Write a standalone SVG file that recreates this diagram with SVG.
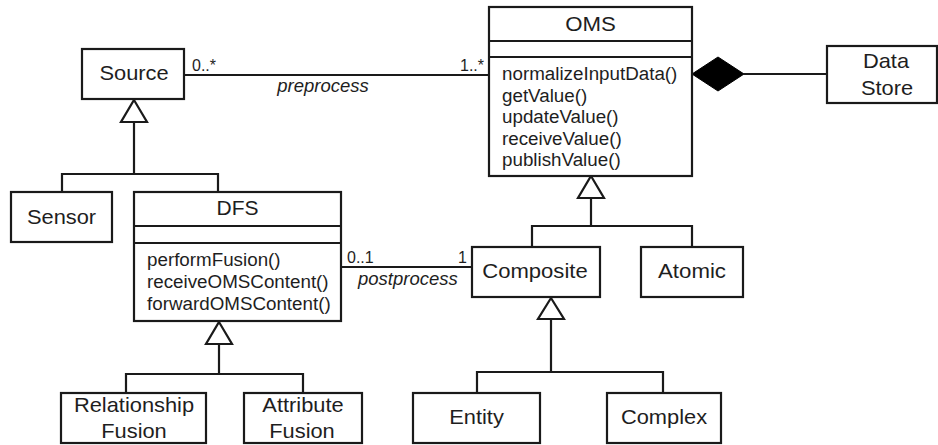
<svg xmlns="http://www.w3.org/2000/svg" width="938" height="445" viewBox="0 0 938 445">
<style>
.box{fill:#fff;stroke:#1a1a1a;stroke-width:2.2}
.ln{fill:none;stroke:#1a1a1a;stroke-width:2.2}
.tri{fill:#fff;stroke:#1a1a1a;stroke-width:2.2;stroke-linejoin:miter}
text{font-family:"Liberation Sans",Arial,sans-serif;fill:#1e1e1e}
.t{font-size:21px;text-anchor:middle}
.m{font-size:18.8px}
.lab{font-size:18.5px;font-style:italic}
.mul{font-size:16px}
</style>
<rect width="938" height="445" fill="#fff"/>
<g id="connectors">
  <!-- preprocess association -->
  <line class="ln" x1="184" y1="75" x2="489" y2="75"/>
  <text class="mul" x="192" y="71">0..*</text>
  <text class="mul" x="484" y="71" text-anchor="end">1..*</text>
  <text class="lab" x="323" y="92" text-anchor="middle">preprocess</text>
  <!-- composition OMS - Data Store -->
  <line class="ln" x1="744" y1="74" x2="827" y2="74"/>
  <polygon points="692,74 718,57 744,74 718,91" fill="#000" stroke="#000" stroke-width="1"/>
  <!-- postprocess association -->
  <line class="ln" x1="341" y1="267" x2="472" y2="267"/>
  <text class="mul" x="347" y="263">0..1</text>
  <text class="mul" x="467" y="263" text-anchor="end">1</text>
  <text class="lab" x="358" y="285">postprocess</text>
  <!-- Source generalization -->
  <polyline class="ln" points="62,192 62,174 218,174 218,192"/>
  <line class="ln" x1="134" y1="122" x2="134" y2="174"/>
  <polygon class="tri" points="134,100 147,122 121,122"/>
  <!-- DFS generalization -->
  <polyline class="ln" points="126,393 126,374 303,374 303,393"/>
  <line class="ln" x1="219" y1="344" x2="219" y2="374"/>
  <polygon class="tri" points="219,322 232,344 206,344"/>
  <!-- OMS generalization -->
  <polyline class="ln" points="532,247 532,226 692,226 692,247"/>
  <line class="ln" x1="591" y1="198" x2="591" y2="226"/>
  <polygon class="tri" points="591,176 604,198 578,198"/>
  <!-- Composite generalization -->
  <polyline class="ln" points="477,393 477,372 663,372 663,393"/>
  <line class="ln" x1="551" y1="319" x2="551" y2="372"/>
  <polygon class="tri" points="551,298 564,319 538,319"/>
</g>
<g id="source">
  <rect class="box" x="82" y="49" width="102" height="50"/>
  <text class="t" transform="translate(134 80) scale(1.04 1)">Source</text>
</g>
<g id="oms">
  <rect class="box" x="489" y="7" width="203" height="169"/>
  <line class="ln" x1="489" y1="41" x2="692" y2="41"/>
  <line class="ln" x1="489" y1="57" x2="692" y2="57"/>
  <text class="t" transform="translate(590.5 31) scale(1.06 1)">OMS</text>
  <text class="m" x="502" y="80">normalizeInputData()</text>
  <text class="m" x="502" y="101.5">getValue()</text>
  <text class="m" x="502" y="123">updateValue()</text>
  <text class="m" x="502" y="144.5">receiveValue()</text>
  <text class="m" x="502" y="166">publishValue()</text>
</g>
<g id="datastore">
  <rect class="box" x="827" y="46" width="110" height="57"/>
  <text class="t" transform="translate(886 68) scale(1.04 1)">Data</text>
  <text class="t" transform="translate(887 95) scale(1.04 1)">Store</text>
</g>
<g id="sensor">
  <rect class="box" x="11" y="192" width="101" height="50"/>
  <text class="t" transform="translate(61.5 224) scale(1.04 1)">Sensor</text>
</g>
<g id="dfs">
  <rect class="box" x="134" y="192" width="207" height="129"/>
  <line class="ln" x1="134" y1="226" x2="341" y2="226"/>
  <line class="ln" x1="134" y1="243" x2="341" y2="243"/>
  <text class="t" transform="translate(237.5 215) scale(1.0 1)">DFS</text>
  <text class="m" x="147" y="266">performFusion()</text>
  <text class="m" x="147" y="288">receiveOMSContent()</text>
  <text class="m" x="147" y="310">forwardOMSContent()</text>
</g>
<g id="composite">
  <rect class="box" x="472" y="247" width="128" height="50"/>
  <text class="t" transform="translate(535 278) scale(1.05 1)">Composite</text>
</g>
<g id="atomic">
  <rect class="box" x="641" y="247" width="102" height="50"/>
  <text class="t" transform="translate(692 278) scale(1.06 1)">Atomic</text>
</g>
<g id="relfusion">
  <rect class="box" x="61" y="393" width="145" height="50"/>
  <text class="t" transform="translate(134 412) scale(1.04 1)">Relationship</text>
  <text class="t" transform="translate(134 438) scale(1.04 1)">Fusion</text>
</g>
<g id="attrfusion">
  <rect class="box" x="244" y="393" width="118" height="50"/>
  <text class="t" transform="translate(303 412) scale(1.04 1)">Attribute</text>
  <text class="t" transform="translate(302 438) scale(1.04 1)">Fusion</text>
</g>
<g id="entity">
  <rect class="box" x="413" y="393" width="127" height="50"/>
  <text class="t" transform="translate(476.5 424) scale(1.04 1)">Entity</text>
</g>
<g id="complex">
  <rect class="box" x="607" y="393" width="114" height="50"/>
  <text class="t" transform="translate(664 424) scale(1.04 1)">Complex</text>
</g>
</svg>
